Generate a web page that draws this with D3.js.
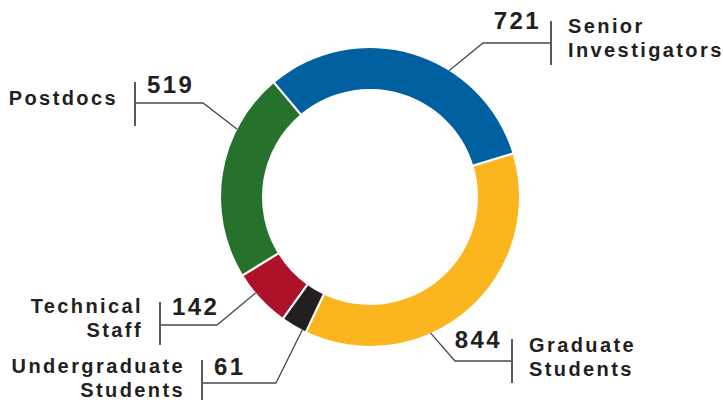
<!DOCTYPE html>
<html>
<head>
<meta charset="utf-8">
<script src="https://cdn.jsdelivr.net/npm/d3@7"></script>
<style>
  body { margin: 0; background: #fff; }
  svg { display: block; font-family: "Liberation Sans", Arial, Helvetica, sans-serif; }
</style>
</head>
<body>
<script>
const width = 723, height = 400;

// data
const categories = ["Senior Investigators", "Graduate Students", "Undergraduate Students", "Technical Staff", "Postdocs"];
const counts = [721, 844, 61, 142, 519];
const labelLines = [["Senior", "Investigators"], ["Graduate", "Students"], ["Undergraduate", "Students"], ["Technical", "Staff"], ["Postdocs"]];
const sliceColors = ["#0060a0", "#fbb51f", "#231f20", "#ad1228", "#26722d"];

// callout layout, one per category
const callouts = [
  { angle: 32,  elbow: [483, 43],  barX: 551, bar: [21, 65],   side: "right", numY: 29,  labelY: 33 },
  { angle: 156, elbow: [455, 361], barX: 512, bar: [339, 383], side: "right", numY: 348, labelY: 352 },
  { angle: 207, elbow: [276, 383], barX: 202, bar: [360, 402], side: "left",  numY: 375, labelY: 373 },
  { angle: 230, elbow: [217, 325], barX: 160, bar: [302, 345], side: "left",  numY: 315, labelY: 313 },
  { angle: 297, elbow: [203, 103], barX: 135, bar: [82, 126],  side: "left",  numY: 93,  labelY: 105 }
];

const cx = 370, cy = 197, outerR = 149, innerR = 108;
const rad = d => d * Math.PI / 180;

const svg = d3.select("body").append("svg")
  .attr("width", width)
  .attr("height", height);

const data = categories.map((c, i) => ({ name: c, value: counts[i], i }));

const pie = d3.pie()
  .sort(null)
  .value(d => d.value)
  .startAngle(rad(-40))
  .endAngle(rad(320))
  .padAngle(0.012);

const arc = d3.arc().innerRadius(innerR).outerRadius(outerR);

const ring = svg.append("g").attr("transform", `translate(${cx},${cy})`);
ring.selectAll("path")
  .data(pie(data))
  .enter().append("path")
  .attr("d", arc)
  .attr("fill", d => sliceColors[d.data.i]);

// leader lines
const line = d3.line();
const textColor = "#231f20";

data.forEach((d, i) => {
  const c = callouts[i];
  const a = rad(c.angle);
  const start = [cx + outerR * Math.sin(a), cy - outerR * Math.cos(a)];
  const g = svg.append("g");

  g.append("path")
    .attr("d", line([start, c.elbow, [c.barX, c.elbow[1]]]))
    .attr("fill", "none")
    .attr("stroke", "#4a4a4a")
    .attr("stroke-width", 1.3);

  g.append("line")
    .attr("x1", c.barX).attr("x2", c.barX)
    .attr("y1", c.bar[0]).attr("y2", c.bar[1])
    .attr("stroke", "#5a5a5a")
    .attr("stroke-width", 2);

  const right = c.side === "right";

  // the number sits between elbow and bar
  g.append("text")
    .attr("x", right ? c.barX - 10 : c.barX + 12)
    .attr("y", c.numY)
    .attr("text-anchor", right ? "end" : "start")
    .attr("fill", textColor)
    .style("font-size", "24px")
    .style("font-weight", "bold")
    .style("letter-spacing", "2.4px")
    .text(d.value);

  // category name on the other side of the bar
  const t = g.append("text")
    .attr("y", c.labelY)
    .attr("text-anchor", right ? "start" : "end")
    .attr("fill", textColor)
    .style("font-size", "20px")
    .style("font-weight", "bold")
    .style("letter-spacing", "2.4px");

  labelLines[i].forEach((s, k) => {
    t.append("tspan")
      .attr("x", right ? c.barX + 17 : c.barX - 17)
      .attr("dy", k === 0 ? 0 : 24)
      .text(s);
  });
});
</script>
</body>
</html>
